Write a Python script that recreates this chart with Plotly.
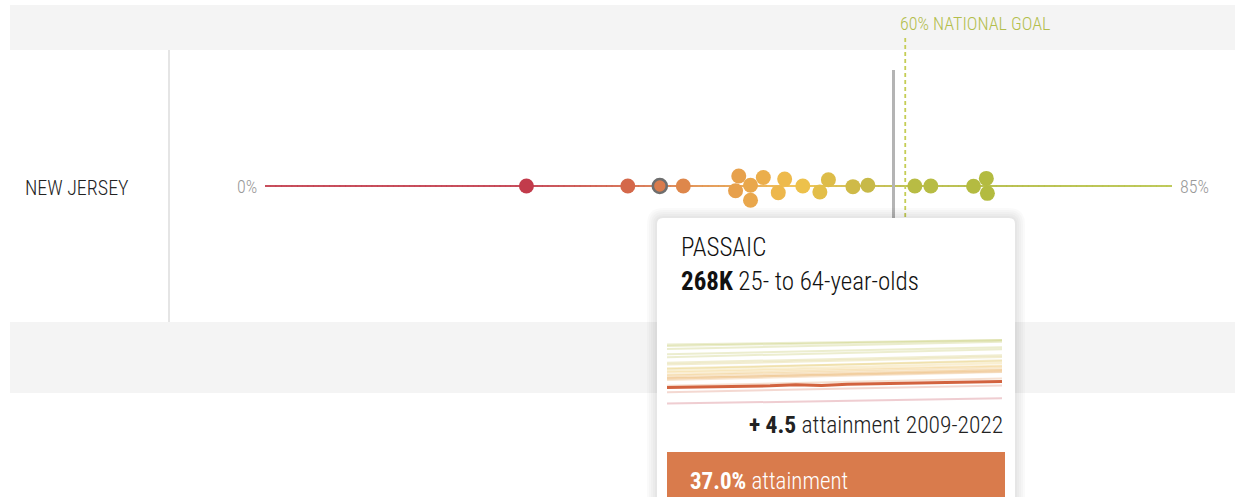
import numpy as np
import plotly.graph_objects as go
from plotly.colors import sample_colorscale

# ---------------- data ----------------
state_name = "NEW JERSEY"
# county attainment 2022 (%), read from the strip
attainment_2022 = [24.5, 34.0, 37.0, 39.2, 44.1, 44.4, 45.5, 45.5, 46.7, 48.1, 48.7,
                   50.4, 52.0, 52.8, 55.1, 56.5, 60.9, 62.4, 66.4, 67.6, 67.7]
# county attainment 2009 (%)
attainment_2009 = [20.6, 29.0, 32.5, 33.8, 38.0, 39.5, 40.2, 39.0, 41.5, 42.0, 43.6,
                   44.5, 46.8, 46.0, 49.5, 50.8, 55.0, 57.1, 61.0, 63.2, 64.4]
highlight_index = 2
highlight_name = "PASSAIC"
highlight_population = "268K"
highlight_years = [2009, 2010, 2011, 2012, 2013, 2014, 2015, 2016, 2017, 2018, 2019, 2020, 2021, 2022]
highlight_series = [32.5, 32.7, 33.1, 33.4, 33.8, 34.6, 34.1, 34.9, 35.2, 35.5, 35.9, 36.3, 36.6, 37.0]
highlight_change = "+ 4.5"
state_average = 58.9
national_goal = 60
axis_min, axis_max = 0, 85
period_label = "2009-2022"

# ---------------- style ----------------
W, H = 1235, 497
FONT = "Roboto Condensed, Liberation Sans Narrow, Roboto, sans-serif"
ROW_Y = 186
X0_PX, X1_PX = 265, 1172
colorscale = [
    [0 / 85, "#c23b4b"], [25 / 85, "#c23b4b"], [34 / 85, "#d4684a"], [37 / 85, "#d97b4c"],
    [40 / 85, "#e08c4a"], [45 / 85, "#e8a44c"], [50 / 85, "#f0c24c"], [53 / 85, "#dcbc48"],
    [56 / 85, "#c9b948"], [60 / 85, "#b9bc45"], [68 / 85, "#b3bb40"], [85 / 85, "#b8c44a"],
]


def fx(px):
    return px / W


def fy(py):
    return 1 - py / H


def color_of(v):
    return sample_colorscale(colorscale, [(v - axis_min) / (axis_max - axis_min)])[0]


# beeswarm offsets (pixel units): greedy placement in x order, then gentle gravity + collision
def swarm_offsets(vals, diameter):
    ppu = (X1_PX - X0_PX) / (axis_max - axis_min)
    xs = np.array(vals) * ppu
    n = len(xs)
    order = np.argsort(xs, kind="stable")
    y = np.zeros(n)
    placed = []
    for i in order:
        near = [j for j in placed if abs(xs[i] - xs[j]) < diameter]
        cands = [0.0]
        for j in near:
            h = np.sqrt(diameter ** 2 - (xs[i] - xs[j]) ** 2)
            cands += [y[j] - h - 1e-6, y[j] + h + 1e-6]

        def ok(c):
            return all(np.hypot(xs[i] - xs[j], c - y[j]) >= diameter - 1e-3 for j in near)

        valid = sorted([c for c in cands if ok(c)], key=lambda c: (round(abs(c), 3), c))
        y[i] = valid[0]
        placed.append(i)

    def resolve():
        for a in range(n):
            for b in range(a + 1, n):
                dx = xs[a] - xs[b]
                if abs(dx) >= diameter:
                    continue
                need = np.sqrt(diameter ** 2 - dx ** 2)
                dy = y[a] - y[b]
                if abs(dy) < need:
                    s = 1.0 if dy >= 0 else -1.0
                    push = (need - abs(dy)) / 2
                    y[a] += s * push
                    y[b] -= s * push

    for it in range(400):
        y *= 0.99
        resolve()
    for it in range(60):
        resolve()
    return y


offsets = swarm_offsets(attainment_2022, 15.0)

fig = go.Figure()
shapes = []
annotations = []

# background bands & divider
shapes.append(dict(type="rect", xref="paper", yref="paper", x0=fx(10), x1=fx(1235), y0=fy(50), y1=fy(5),
                   fillcolor="#f4f4f4", line_width=0, layer="below"))
shapes.append(dict(type="rect", xref="paper", yref="paper", x0=fx(10), x1=fx(1235), y0=fy(393), y1=fy(322),
                   fillcolor="#f4f4f4", line_width=0, layer="below"))
shapes.append(dict(type="line", xref="paper", yref="paper", x0=fx(169), x1=fx(169), y0=fy(322), y1=fy(50),
                   line=dict(color="#dcdcdc", width=1.5), layer="below"))

# gradient axis line
steps = np.arange(axis_min, axis_max, 0.5)
seg_cols = sample_colorscale(colorscale, list((steps + 0.25) / (axis_max - axis_min)))
for s, c in zip(steps, seg_cols):
    shapes.append(dict(type="line", xref="x", yref="y", x0=s, x1=min(s + 0.55, axis_max), y0=ROW_Y, y1=ROW_Y,
                       line=dict(color=c, width=1.8), layer="below"))

# state average and national goal lines
shapes.append(dict(type="line", xref="x", yref="y", x0=state_average, x1=state_average, y0=70, y1=300,
                   line=dict(color="#b4b4b4", width=3), layer="below"))
shapes.append(dict(type="line", xref="x", yref="y", x0=national_goal, x1=national_goal, y0=38, y1=300,
                   line=dict(color="#c5cd55", width=1.8, dash="4px,3px"), layer="below"))

# county markers
sizes = [15] * len(attainment_2022)
lw = [0] * len(attainment_2022)
sizes[highlight_index] = 14
lw[highlight_index] = 2.6
fig.add_trace(go.Scatter(
    x=attainment_2022, y=[ROW_Y + o for o in offsets], mode="markers",
    marker=dict(color=attainment_2022, colorscale=colorscale, cmin=axis_min, cmax=axis_max,
                size=sizes, line=dict(width=lw, color="#6e6e6e"), opacity=1),
    hoverinfo="skip", cliponaxis=False, showlegend=False, xaxis="x", yaxis="y"))


# tooltip (pixel axes x2/y2)
def rrect(x0, y0, x1, y1, r):
    return (f"M {x0+r},{y0} L {x1-r},{y0} Q {x1},{y0} {x1},{y0+r} L {x1},{y1-r} Q {x1},{y1} {x1-r},{y1} "
            f"L {x0+r},{y1} Q {x0},{y1} {x0},{y1-r} L {x0},{y0+r} Q {x0},{y0} {x0+r},{y0} Z")


for k in range(5, 0, -1):
    shapes.append(dict(type="path", xref="x2", yref="y2", path=rrect(657 - 2 * k, 218 - 2 * k, 1015 + 2 * k, 530, 6 + 2 * k),
                       fillcolor="rgba(0,0,0,0.018)", line_width=0, layer="below"))
shapes.append(dict(type="path", xref="x2", yref="y2", path=rrect(657, 218, 1015, 530, 6),
                   fillcolor="#ffffff", line_width=0, layer="below"))
shapes.append(dict(type="rect", xref="x2", yref="y2", x0=667, x1=1005, y0=452, y1=530,
                   fillcolor=color_of(attainment_2022[highlight_index]), line_width=0, layer="below"))
fig.add_trace(go.Scatter(x=[700], y=[300], mode="markers", marker=dict(size=1, opacity=0),
                         hoverinfo="skip", showlegend=False, xaxis="x2", yaxis="y2"))

# mini trend chart (x3/y3)
for i, (a, b) in enumerate(zip(attainment_2009, attainment_2022)):
    if i == highlight_index:
        continue
    fig.add_trace(go.Scatter(x=[highlight_years[0], highlight_years[-1]], y=[a, b], mode="lines",
                             line=dict(color=color_of(b), width=2), opacity=0.25,
                             hoverinfo="skip", showlegend=False, xaxis="x3", yaxis="y3"))
fig.add_trace(go.Scatter(x=highlight_years, y=highlight_series, mode="lines",
                         line=dict(color="#d2633f", width=3), hoverinfo="skip", showlegend=False,
                         xaxis="x3", yaxis="y3"))


def ann(text, x, y, size, color, xanchor="left", yanchor="middle", weight=300):
    annotations.append(dict(text=text, x=fx(x), y=fy(y), xref="paper", yref="paper", showarrow=False,
                            xanchor=xanchor, yanchor=yanchor,
                            font=dict(family=FONT, size=size, color=color, weight=weight)))


ann(state_name, 23, 188, 20, "#222222")
ann(f"{axis_min}%", 259, 186, 18, "#999999", xanchor="right")
ann(f"{axis_max}%", 1178, 186, 18, "#999999")
ann(f"{national_goal}% NATIONAL GOAL", 898, 24, 18, "#b3be4c")
ann(highlight_name, 679, 247, 25, "#111111")
ann(f"<b>{highlight_population}</b> 25- to 64-year-olds", 679, 281, 25, "#111111")
ann(f"<b>{highlight_change}</b> attainment {period_label}", 1005, 425, 23.5, "#222222", xanchor="right")
ann(f"<b>{attainment_2022[highlight_index]:.1f}%</b> attainment", 688, 481, 23, "#ffffff")

hidden = dict(visible=False, showgrid=False, zeroline=False, fixedrange=True)
fig.update_layout(
    width=W, height=H, margin=dict(l=0, r=0, t=0, b=0),
    paper_bgcolor="#ffffff", plot_bgcolor="rgba(0,0,0,0)",
    shapes=shapes, annotations=annotations, showlegend=False,
    xaxis=dict(domain=[fx(X0_PX), fx(X1_PX)], range=[axis_min, axis_max], anchor="y", **hidden),
    yaxis=dict(domain=[0, 1], range=[H, 0], anchor="x", **hidden),
    xaxis2=dict(domain=[fx(640), fx(1035)], range=[640, 1035], anchor="y2", **hidden),
    yaxis2=dict(domain=[0, fy(205)], range=[H, 205], anchor="x2", **hidden),
    xaxis3=dict(domain=[fx(667), fx(1002)], range=[2009, 2022], anchor="y3", **hidden),
    yaxis3=dict(domain=[fy(412), fy(330)], range=[14.4, 75.1], anchor="x3", **hidden),
)
fig.write_html("out.html", config={"displayModeBar": False},
               post_script="document.body.style.margin='0';document.body.style.overflow='hidden';")
